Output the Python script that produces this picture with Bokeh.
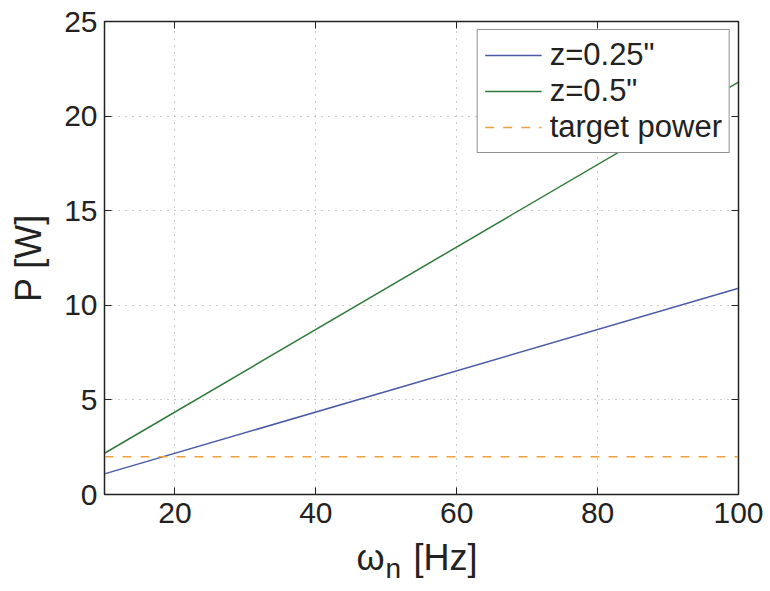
from bokeh.plotting import figure
from bokeh.layouts import column
from bokeh.models import Range1d, LinearAxis, Legend, LegendItem, FixedTicker, ColumnDataSource
from bokeh.core.properties import value
from bokeh.embed import file_html
from bokeh.resources import INLINE

# Natural frequency [Hz] and harvested power [W]
omega = [10, 100]
power_z025 = [1.09, 10.9]
power_z05 = [2.18, 21.8]
target_power = [2.0, 2.0]

x_ticks = [20, 40, 60, 80, 100]
y_ticks = [0, 5, 10, 15, 20, 25]

series_labels = ["z=0.25\"", "z=0.5\"", "target power"]
y_title = "P [W]"

FONT = "Liberation Sans"
INK = "#222222"
LEFT, RIGHT = 104, 32

p = figure(width=770, height=537, output_backend="svg", toolbar_location=None,
           x_range=Range1d(10, 100), y_range=Range1d(0, 25),
           min_border_left=LEFT, min_border_right=RIGHT, min_border_top=21, min_border_bottom=43)
p.background_fill_color = "white"
p.border_fill_color = "white"
p.outline_line_color = INK
p.outline_line_width = 1.5

l1 = p.line(omega, power_z025, line_color="#4a5aa6", line_width=1.5)
l2 = p.line(omega, power_z05, line_color="#2f7a3a", line_width=1.5)
l3 = p.line(omega, target_power, line_color="#f0a040", line_width=1.5, line_dash="9 9")

for ax in (p.xaxis[0], p.yaxis[0]):
    ax.major_label_text_font = FONT
    ax.major_label_text_font_size = "30px"
    ax.major_label_text_color = INK
    ax.axis_line_color = INK
    ax.major_tick_in = 7
    ax.major_tick_out = 0
    ax.minor_tick_line_color = None
    ax.major_tick_line_color = INK

p.xaxis.ticker = FixedTicker(ticks=x_ticks)
p.yaxis.ticker = FixedTicker(ticks=y_ticks)
p.xaxis.major_label_standoff = 8
p.yaxis.major_label_standoff = 7

p.yaxis.axis_label = y_title
p.yaxis.axis_label_text_font = FONT
p.yaxis.axis_label_text_font_size = "36px"
p.yaxis.axis_label_text_font_style = "normal"
p.yaxis.axis_label_text_color = INK
p.yaxis.axis_label_standoff = 12

# tick marks on the top and right edges of the box (no labels there)
for side, ticks in (("right", y_ticks), ("above", x_ticks)):
    extra = LinearAxis(ticker=FixedTicker(ticks=ticks), major_label_text_font_size="8px",
                       major_label_text_color=None,
                       major_tick_in=7, major_tick_out=0, minor_tick_line_color=None,
                       axis_line_color=INK, major_tick_line_color=INK,
                       major_label_standoff=0)
    p.add_layout(extra, side)

p.xgrid.ticker = FixedTicker(ticks=x_ticks)
p.ygrid.ticker = FixedTicker(ticks=y_ticks)
for g in (p.xgrid[0], p.ygrid[0]):
    g.grid_line_color = "#999999"
    g.grid_line_dash = "1 6"
    g.grid_line_width = 1

legend = Legend(items=[LegendItem(label=series_labels[0], renderers=[l1]),
                       LegendItem(label=series_labels[1], renderers=[l2]),
                       LegendItem(label=series_labels[2], renderers=[l3])],
                location="top_right")
legend.label_text_font = FONT
legend.label_text_font_size = "31px"
legend.label_text_color = INK
legend.glyph_width = 57
legend.label_standoff = 8
legend.spacing = 0
legend.label_height = 36
legend.glyph_height = 36
legend.padding = 7
legend.margin = 8
legend.border_line_color = INK
legend.border_line_width = 1.5
legend.background_fill_alpha = 1
p.add_layout(legend)

# x axis title strip: omega with a subscript n, then the unit
STRIP_H = 46
t = figure(width=770, height=STRIP_H, output_backend="svg", toolbar_location=None,
           x_range=Range1d(LEFT, 770 - RIGHT), y_range=Range1d(STRIP_H, 0),
           x_axis_type=None, y_axis_type=None,
           min_border_left=LEFT, min_border_right=RIGHT, min_border_top=0, min_border_bottom=0,
           outline_line_color=None)
t.grid.visible = False
title_src = ColumnDataSource(dict(
    x=[356, 385, 413],
    y=[20, 31, 20],
    text=["ω", "n", "[Hz]"],
    size=["36px", "28px", "36px"],
))
t.text(x="x", y="y", text="text", source=title_src, text_font=value(FONT),
       text_font_size="size", text_color=INK, text_baseline="alphabetic", text_align="left")

layout = column(p, t, spacing=0)
open("out.html", "w").write(file_html(layout, INLINE))
